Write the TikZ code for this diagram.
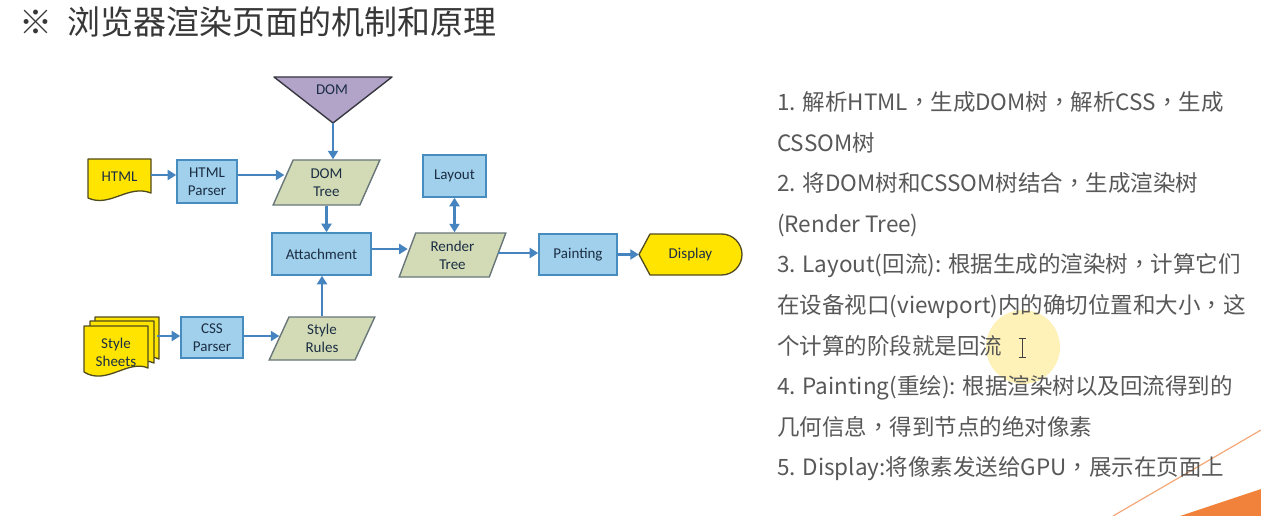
\documentclass[tikz,border=0pt]{standalone}
\usepackage{fontspec}
\usetikzlibrary{shapes.geometric,arrows.meta,calc}
\newfontfamily\cjk{Noto Sans CJK SC}
\newfontfamily\cjktc{Noto Sans CJK TC}
\newfontfamily\diagfont{Carlito}
\newcommand\fc{{\cjktc ，}}
\definecolor{boxfill}{RGB}{160,208,235}
\definecolor{boxline}{RGB}{70,140,190}
\definecolor{parfill}{RGB}{210,219,182}
\definecolor{parline}{RGB}{105,118,122}
\definecolor{yelfill}{RGB}{255,228,0}
\definecolor{yelline}{RGB}{80,75,30}
\definecolor{domfill}{RGB}{178,163,200}
\definecolor{domline}{RGB}{55,55,65}
\definecolor{arrowc}{RGB}{70,132,192}
\definecolor{dtext}{RGB}{28,46,68}
\definecolor{rtext}{RGB}{88,88,88}
\definecolor{ttext}{RGB}{55,55,55}
\definecolor{orangec}{RGB}{240,130,60}
\begin{document}
\begin{tikzpicture}[x=1pt,y=-1pt,
  dfont/.style={font=\diagfont\fontsize{15}{18}\selectfont, text=dtext, align=center},
  bluebox/.style={dfont, draw=boxline, fill=boxfill, line width=1.6pt, inner sep=0pt},
  para/.style={dfont, trapezium, trapezium left angle=71, trapezium right angle=109,
    trapezium stretches=true, draw=parline, fill=parfill, line width=1.4pt, inner sep=0pt},
  ghost/.style={dfont, draw=none, inner sep=0pt},
  yelshape/.style={draw=yelline, fill=yelfill, line width=1.3pt, line join=round},
  arr/.style={draw=arrowc, line width=2.5pt, -{Triangle[length=8.5pt,width=10pt]}},
  darr/.style={draw=arrowc, line width=2.5pt, {Triangle[length=8.5pt,width=10pt]}-{Triangle[length=8.5pt,width=10pt]}},
  notes/.style={font=\cjk\fontsize{22.5}{26}\selectfont, text=rtext, anchor=west, inner sep=0pt,
    text height=19.8pt, text depth=2.7pt},
  titlef/.style={font=\cjk\fontsize{33}{38}\selectfont, text=ttext, inner sep=0pt,
    text height=29pt, text depth=4pt}
]
\useasboundingbox (0,0) rectangle (1261,516);
\fill[white] (0,0) rectangle (1261,516);

% decoration bottom right
\draw[orangec!70!white, line width=1.2pt] (1113,516) -- (1261,430);
\fill[orangec] (1180,516) -- (1261,489) -- (1261,516) -- cycle;

% title
\node[titlef] (mark) at (36,22) {※};
\node[titlef, anchor=west] (title) at (67,22) {浏览器渲染页面的机制和原理};

% DOM triangle
\draw[draw=domline, fill=domfill, line width=1.4pt, line join=round] (274,77) -- (392,77) -- (333,123) -- cycle;
\node[ghost] (dom) at (332,90) {DOM};
\coordinate (domtip) at (333,123);

% HTML document
\draw[yelshape] (88,159) -- (151,159) -- (151,193) .. controls (128,184) and (110,208) .. (88,198) -- cycle;
\node[ghost, minimum width=63pt, minimum height=38pt] (html) at (119.5,177) {HTML};

% Style sheets
\foreach \dx/\dy in {11/-9, 6/-5, 0/0} {
  \draw[yelshape, shift={(\dx,\dy)}] (84,326) -- (148,326) -- (148,368) .. controls (128,359) and (106,386) .. (84,372) -- cycle;
}
\node[ghost] (ss) at (116,352) {Style\\Sheets};
\coordinate (ssout) at (157,336);

% boxes
\node[bluebox, minimum width=60pt, minimum height=43pt] (hp) at (207,181.5) {HTML\\Parser};
\node[para, minimum width=107pt, minimum height=45pt] (dt) at (326.5,182.5) {DOM\\Tree};
\node[bluebox, minimum width=63pt, minimum height=42pt] (lay) at (454.5,176) {Layout};
\node[bluebox, minimum width=99pt, minimum height=42pt] (att) at (321.5,254) {Attachment};
\node[para, minimum width=107pt, minimum height=44pt] (rt) at (452.5,255) {Render\\Tree};
\node[bluebox, minimum width=78pt, minimum height=41pt] (paint) at (578,254.5) {Painting};
\node[bluebox, minimum width=62pt, minimum height=41pt] (cssp) at (212,337.5) {CSS\\Parser};
\node[para, minimum width=106pt, minimum height=43pt] (sr) at (322,338.5) {Style\\Rules};

% Display
\draw[yelshape] (639,254.5) -- (650,234) -- (721.5,234) arc[start angle=90, end angle=-90, radius=20.5pt] -- (650,275) -- cycle;
\node[ghost, minimum width=103pt, minimum height=41pt] (disp) at (690.5,254.5) {Display};

% helper levels
\coordinate (y1) at (0,175);
\coordinate (y2) at (0,249);
\coordinate (y3) at (0,253);
\coordinate (y4) at (0,336);

% connectors
\draw[arr] (domtip) -- (domtip |- dt.north);
\draw[arr] (html.east |- y1) -- (hp.west |- y1);
\draw[arr] (hp.east |- y1) -- ([xshift=2pt]dt.west |- y1);
\draw[arr] (dt.south) -- (dt.south |- att.north);
\draw[arr] (sr.north) -- (sr.north |- att.south);
\draw[arr] (ssout) -- (cssp.west |- ssout);
\draw[arr] (cssp.east |- y4) -- ([xshift=1pt]sr.west |- y4);
\draw[arr] (att.east |- y2) -- ([xshift=1pt]rt.west |- y2);
\draw[darr] (lay.south) -- (lay.south |- rt.north);
\draw[arr] (rt.east |- y3) -- (paint.west |- y3);
\draw[arr] (paint.east) -- (disp.west);

% pointer highlight
\fill[yellow!70!orange, opacity=0.28] (1023,347) circle[radius=37pt];

% notes
\node[notes] (l1) at (777,102) {1. 解析HTML\fc 生成DOM树\fc 解析CSS\fc 生成};
\node[notes] (l2) at (777,142.5) {CSSOM树};
\node[notes] (l3) at (777,183) {2. 将DOM树和CSSOM树结合\fc 生成渲染树};
\node[notes] (l4) at (777,223.5) {(Render Tree)};
\node[notes] (l5) at (777,264) {3. Layout(回流): 根据生成的渲染树\fc 计算它们};
\node[notes] (l6) at (777,304.5) {在设备视口(viewport)内的确切位置和大小\fc 这};
\node[notes] (l7) at (777,345.5) {个计算的阶段就是回流};
\node[notes] (l8) at (777,386) {4. Painting(重绘): 根据渲染树以及回流得到的};
\node[notes] (l9) at (777,426.5) {几何信息\fc 得到节点的绝对像素};
\node[notes] (l10) at (777,467) {5. Display:将像素发送给GPU\fc 展示在页面上};

% text cursor
\draw[black!75, line width=1pt] (1022,339) -- (1022,357) (1018.5,338.5) -- (1025.5,338.5) (1018.5,357.5) -- (1025.5,357.5);
\end{tikzpicture}
\end{document}
